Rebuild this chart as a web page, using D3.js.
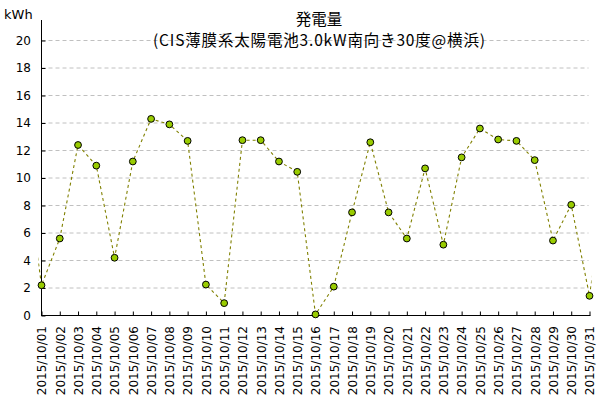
<!DOCTYPE html>
<html>
<head>
<meta charset="utf-8">
<script src="https://cdn.jsdelivr.net/npm/d3@7"></script>
<style>
  body { margin: 0; background: #fff; }
  svg { display: block; }
</style>
</head>
<body>
<svg id="chart" width="600" height="401"></svg>
<script>
// ---- data ----
const dates = ["2015/10/01","2015/10/02","2015/10/03","2015/10/04","2015/10/05","2015/10/06","2015/10/07","2015/10/08","2015/10/09","2015/10/10","2015/10/11","2015/10/12","2015/10/13","2015/10/14","2015/10/15","2015/10/16","2015/10/17","2015/10/18","2015/10/19","2015/10/20","2015/10/21","2015/10/22","2015/10/23","2015/10/24","2015/10/25","2015/10/26","2015/10/27","2015/10/28","2015/10/29","2015/10/30","2015/10/31"];
const values = [2.2,5.6,12.4,10.9,4.2,11.2,14.3,13.9,12.7,2.25,0.9,12.75,12.75,11.2,10.45,0.08,2.1,7.5,12.6,7.5,5.6,10.7,5.15,11.5,13.6,12.8,12.7,11.3,5.45,8.05,1.43];
// neighbouring days outside the plotted range (only their line stubs are visible)
const prevDayValue = 12.0;  // 2015/09/30
const nextDayValue = 10.5;  // 2015/11/01
const yTicks = [0,2,4,6,8,10,12,14,16,18,20];
const titleLine1 = "発電量";
const titleLine2 = "(CIS薄膜系太陽電池3.0kW南向き30度@横浜)";
const unitLabel = "kWh";

// ---- layout ----
const svg = d3.select("#chart");
const plotLeft = 41.5, plotRight = 589.5, plotBottom = 315.5, plotTop = 40.5;
const latin = "'DejaVu Sans', Verdana, sans-serif";
const cjk = "'Noto Sans CJK JP', 'Noto Sans', sans-serif";

const x = d3.scaleLinear().domain([1, dates.length]).range([plotLeft, plotRight]);
const y = d3.scaleLinear().domain([0, 20]).range([plotBottom, plotTop]);

// grid lines
svg.append("g").selectAll("line")
  .data(yTicks.filter(v => v > 0))
  .join("line")
  .attr("x1", plotLeft).attr("x2", plotRight - 1)
  .attr("y1", d => y(d)).attr("y2", d => y(d))
  .attr("stroke", "#c0c0c0")
  .attr("stroke-dasharray", "4,3")
  .attr("stroke-width", 1);

// y axis
const yAxis = svg.append("g")
  .attr("transform", `translate(${plotLeft},0)`)
  .call(d3.axisLeft(y).tickValues(yTicks).tickSizeInner(-4).tickSizeOuter(0).tickPadding(10.5));
yAxis.select(".domain").remove();
yAxis.selectAll(".tick line").attr("stroke", "#000");
yAxis.selectAll(".tick text")
  .attr("fill", "#000")
  .style("font-family", latin)
  .style("font-size", "12px");
svg.append("line")
  .attr("x1", plotLeft).attr("x2", plotLeft)
  .attr("y1", 20).attr("y2", plotBottom)
  .attr("stroke", "#000");

// x axis
const xAxis = svg.append("g")
  .attr("transform", `translate(0,${plotBottom})`)
  .call(d3.axisBottom(x)
    .tickValues(d3.range(1, dates.length + 1))
    .tickFormat(d => dates[d - 1])
    .tickSizeInner(-4).tickSizeOuter(0));
xAxis.select(".domain").attr("stroke", "#000").attr("d", `M${plotLeft - 0.5},0H${plotRight + 1}`);
xAxis.selectAll(".tick line").attr("stroke", "#000");
xAxis.selectAll(".tick text")
  .attr("fill", "#000")
  .attr("transform", "rotate(-90)")
  .attr("text-anchor", "end")
  .attr("x", -10.5)
  .attr("y", 0)
  .attr("dy", "0.36em")
  .style("font-family", latin)
  .style("font-size", "12px");

// line (clipped, including neighbour days so the stubs show)
svg.append("clipPath").attr("id", "clip")
  .append("rect").attr("x", 38.3).attr("y", 0).attr("width", 591.5 - 38.3).attr("height", 401);

const lineData = [{d: 0, v: prevDayValue}]
  .concat(values.map((v, i) => ({d: i + 1, v})))
  .concat([{d: dates.length + 1, v: nextDayValue}]);

svg.append("path")
  .datum(lineData)
  .attr("clip-path", "url(#clip)")
  .attr("fill", "none")
  .attr("stroke", "#808000")
  .attr("stroke-width", 1.1)
  .attr("stroke-dasharray", "3,3")
  .attr("d", d3.line().x(p => x(p.d)).y(p => y(p.v)));

// points
svg.append("g").selectAll("circle")
  .data(values)
  .join("circle")
  .attr("cx", (v, i) => x(i + 1))
  .attr("cy", v => y(v))
  .attr("r", 3.4)
  .attr("fill", "#99cc00")
  .attr("stroke", "#000")
  .attr("stroke-width", 1);

// titles
svg.append("text")
  .attr("x", 319).attr("y", 25)
  .attr("text-anchor", "middle")
  .style("font-family", cjk).style("font-size", "15.5px")
  .attr("fill", "#000")
  .text(titleLine1);
svg.append("text")
  .attr("x", 319).attr("y", 45.5)
  .attr("text-anchor", "middle")
  .attr("textLength", 332).attr("lengthAdjust", "spacing")
  .style("font-family", cjk).style("font-size", "15.5px")
  .attr("fill", "#000")
  .text(titleLine2);

// unit label
svg.append("text")
  .attr("x", 4).attr("y", 19)
  .style("font-family", latin).style("font-size", "13px")
  .attr("fill", "#000")
  .text(unitLabel);
</script>
</body>
</html>
